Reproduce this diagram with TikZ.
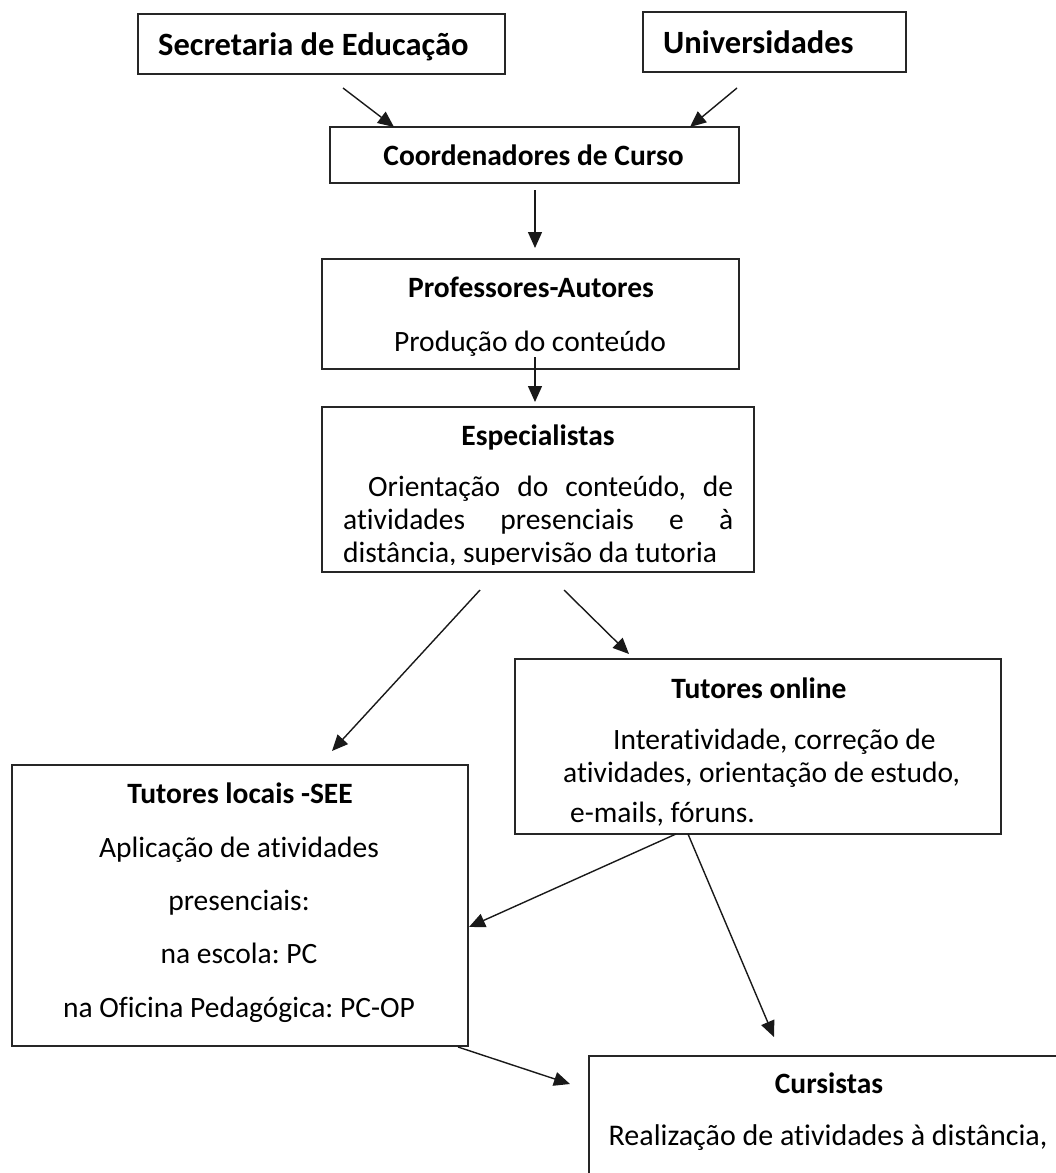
\documentclass[tikz,border=0pt]{standalone}
\usepackage{fontspec}
\setmainfont{Carlito}[Ligatures=NoCommon]
\usetikzlibrary{arrows.meta}
\frenchspacing
\begin{document}
\begin{tikzpicture}[x=1pt,y=-1pt,
  box/.style={draw=black!85,line width=1.8pt,inner sep=0pt},
  txt/.style={anchor=base,inner sep=0pt,font=\fontsize{29.5}{33}\selectfont},
  ttl/.style={anchor=base,inner sep=0pt,font=\fontsize{29.5}{33}\selectfont\bfseries},
  bigttl/.style={anchor=base west,inner sep=0pt,font=\fontsize{32.5}{36}\selectfont\bfseries},
  arr/.style={draw=black!90,line width=1.4pt,-{Triangle[length=16pt,width=14pt]}}]
\useasboundingbox (0,0) rectangle (1056,1173);
\clip (0,0) rectangle (1056,1173);

% boxes
\node[box,minimum width=367pt,minimum height=60pt] (sec) at (321.5,44) {};
\node[box,minimum width=263pt,minimum height=60pt] (uni) at (774.5,42) {};
\node[box,minimum width=409pt,minimum height=56pt] (coord) at (534.5,155) {};
\node[box,minimum width=417pt,minimum height=110pt] (prof) at (530.5,314) {};
\node[box,minimum width=432pt,minimum height=165pt] (esp) at (538,489.5) {};
\node[box,minimum width=486pt,minimum height=175pt] (onl) at (758,746.5) {};
\node[box,minimum width=456pt,minimum height=281pt] (loc) at (240,905.5) {};
\node[box,minimum width=481pt,minimum height=200pt] (cur) at (829.5,1156) {};

% texts
\node[bigttl] (secT) at (158,55) {Secretaria de Educação};
\node[bigttl] (uniT) at (663,53) {Universidades};
\node[ttl] (coordT) at (533.5,165) {Coordenadores de Curso};
\node[ttl] (profT) at (531,297) {Professores-Autores};
\node[txt] (profL) at (530,351) {Produção do conteúdo};
\node[ttl] (espT) at (538,445) {Especialistas};
\begin{scope}
\clip (322,407) rectangle (754,564.5);
\node[txt,anchor=base west] (espL1) at (368,496) {\makebox[365pt][s]{Orientação do conteúdo, de}};
\node[txt,anchor=base west] (espL2) at (343,529) {\makebox[390pt][s]{atividades presenciais e à}};
\node[txt,anchor=base west] (espL3) at (343,562) {distância, supervisão da tutoria};
\end{scope}
\node[ttl] (onlT) at (759,698) {Tutores online};
\node[txt,anchor=base west] (onlL1) at (613,749) {Interatividade, correção de};
\node[txt,anchor=base west] (onlL2) at (563,782) {atividades, orientação de estudo,};
\node[txt,anchor=base west] (onlL3) at (570,822) {e-mails, fóruns.};
\node[ttl] (locT) at (240,803) {Tutores locais -SEE};
\node[txt] (locL1) at (239,857) {Aplicação de atividades};
\node[txt] (locL2) at (239,910) {presenciais:};
\node[txt] (locL3) at (239,963) {na escola: PC};
\node[txt] (locL4) at (239,1017) {na Oficina Pedagógica: PC-OP};
\node[ttl] (curT) at (829,1093) {Cursistas};
\node[txt,font=\fontsize{30}{34}\selectfont] (curL1) at (828,1145) {Realização de atividades à distância,};

% connector end points
\coordinate (a1s) at (343,88);  \coordinate (a1e) at (394,127);
\coordinate (a2s) at (737,88);  \coordinate (a2e) at (690,127);
\coordinate (a3s) at (535,190); \coordinate (a3e) at (535,248);
\coordinate (a4s) at (535,357); \coordinate (a4e) at (535,402);
\coordinate (a5s) at (480,590); \coordinate (a5e) at (332,751);
\coordinate (a6s) at (564,590); \coordinate (a6e) at (629,654);
\coordinate (a7s) at (676,834); \coordinate (a7e) at (469,927);
\coordinate (a8s) at (688,834); \coordinate (a8e) at (774,1037);
\coordinate (a9s) at (458,1047); \coordinate (a9e) at (570,1084);

\draw[arr] (a1s) -- (a1e);
\draw[arr] (a2s) -- (a2e);
\draw[arr] (a3s) -- (a3e);
\draw[arr] (a4s) -- (a4e);
\draw[arr] (a5s) -- (a5e);
\draw[arr] (a6s) -- (a6e);
\draw[arr] (a7s) -- (a7e);
\draw[arr] (a8s) -- (a8e);
\draw[arr] (a9s) -- (a9e);
\end{tikzpicture}
\end{document}
